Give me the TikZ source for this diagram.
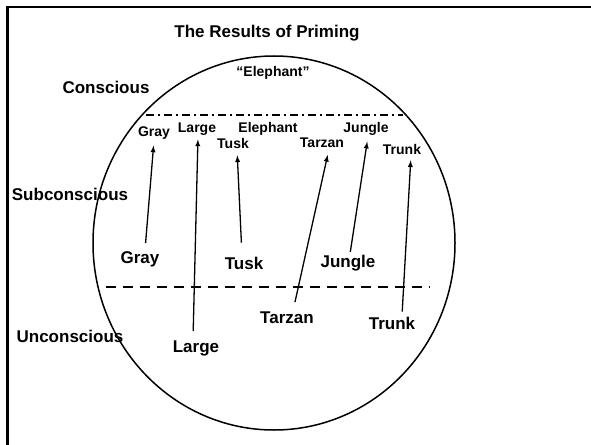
\documentclass[tikz,border=0pt]{standalone}
\usepackage{fontspec}
\setmainfont{Liberation Sans}
\usetikzlibrary{arrows}

\tikzset{
  big/.style={font=\fontsize{17}{20}\selectfont\bfseries, inner sep=1pt},
  small/.style={font=\fontsize{14}{16}\selectfont\bfseries, inner sep=1pt},
  prime/.style={line width=1.3,-latex},
}

\begin{document}
\begin{tikzpicture}[x=1pt,y=-1pt]
\useasboundingbox (0,0) rectangle (591,444);

% frame
\draw[line width=2.5] (7.5,446) -- (7.5,7) -- (593,7);

% titles and levels
\node[big] (title) at (267,33) {The Results of Priming};
\node[big] (conscious) at (106,87) {Conscious};
\node[big] (subconscious) at (70,194) {Subconscious};
\node[big] (unconscious) at (70,336) {Unconscious};

% mind
\draw[line width=1.5] (274,243) ellipse [x radius=181, y radius=187];
\draw[line width=1.5, dash pattern=on 8pt off 4pt on 2pt off 4pt] (146,115) -- (403,115);
\draw[line width=1.5, dash pattern=on 10pt off 7pt] (106,287) -- (430,287);

\node[small] (said) at (273,73) {“Elephant”};

% subconscious words
\node[small] (upGray) at (154,133) {Gray};
\node[small] (upLarge) at (197,129) {Large};
\node[small] (upElephant) at (268,129) {Elephant};
\node[small] (upTusk) at (233,143) {Tusk};
\node[small] (upTarzan) at (322,143) {Tarzan};
\node[small] (upJungle) at (366,129) {Jungle};
\node[small] (upTrunk) at (402,149) {Trunk};

% primed words
\node[big] (lowGray) at (140,259) {Gray};
\node[big] (lowLarge) at (196,348) {Large};
\node[big] (lowTusk) at (244,263) {Tusk};
\node[big] (lowTarzan) at (287,318) {Tarzan};
\node[big] (lowJungle) at (348,263) {Jungle};
\node[big] (lowTrunk) at (392,323) {Trunk};

\draw[prime, shorten <=7pt, shorten >=5pt] ([xshift=5]lowGray.north) -- (upGray.south);
\draw[prime, shorten <=8pt, shorten >=3pt] ([xshift=-3]lowLarge.north) -- ([xshift=1]upLarge.south);
\draw[prime, shorten <=13pt, shorten >=6pt] ([xshift=-2]lowTusk.north) -- ([xshift=4]upTusk.south);
\draw[prime, shorten <=9pt, shorten >=6pt] ([xshift=6]lowTarzan.north) -- ([xshift=7]upTarzan.south);
\draw[prime, shorten <=2pt, shorten >=5pt] ([xshift=2]lowJungle.north) -- ([xshift=2]upJungle.south);
\draw[prime, shorten <=4pt, shorten >=5pt] ([xshift=10]lowTrunk.north) -- ([xshift=9]upTrunk.south);

\end{tikzpicture}
\end{document}
